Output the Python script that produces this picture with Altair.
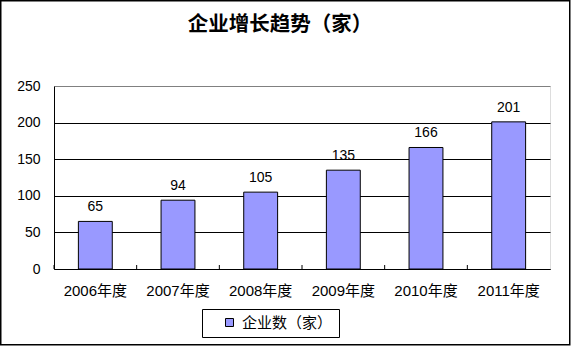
import altair as alt
import pandas as pd

years = ["2006年度", "2007年度", "2008年度", "2009年度", "2010年度", "2011年度"]
counts = [65, 94, 105, 135, 166, 201]
series_name = "企业数（家）"
y_ticks = [0, 50, 100, 150, 200, 250]
title_text = "企业增长趋势（家）"

FONT = "'Liberation Sans', 'Noto Sans CJK SC', sans-serif"
BAR = "#9999FF"

df = pd.DataFrame({"year": years, "count": counts, "series": [series_name] * len(years)})

W, H = 496, 183

x_axis = alt.Axis(
    title=None, labelAngle=0, ticks=False, domainColor="black", domainWidth=1,
    labelFontSize=15, labelPadding=14, labelColor="black", labelFont=FONT,
)
y_axis = alt.Axis(
    title=None, values=y_ticks, ticks=False, grid=True, labelOverlap=False,
    gridColor={"condition": {"test": "datum.value === 250", "value": "#808080"}, "value": "#000000"},
    gridWidth=1, domainColor="black", labelFontSize=14, labelPadding=14,
    labelColor="black", labelFont=FONT,
)
x_scale = alt.Scale(paddingInner=0, paddingOuter=0)
y_scale = alt.Scale(domain=[0, 250], nice=False)

base = alt.Chart(df)

bars = base.mark_bar(
    width=alt.RelativeBandSize(0.41), stroke="black", strokeWidth=1
).encode(
    x=alt.X("year:N", sort=years, scale=x_scale, axis=x_axis),
    y=alt.Y("count:Q", scale=y_scale, axis=y_axis),
    color=alt.Color(
        "series:N",
        scale=alt.Scale(range=[BAR]),
        legend=alt.Legend(
            title=None, orient="none", legendX=148, legendY=223,
            strokeColor="black", fillColor="white", padding=6,
            symbolType="square", symbolSize=64, symbolStrokeColor="black",
            symbolStrokeWidth=1, symbolOffset=14, labelOffset=5,
            labelFontSize=15, labelFont=FONT, labelColor="black",
        ),
    ),
)

labels = base.mark_text(
    baseline="bottom", dy=-7, fontSize=14, font=FONT, color="black"
).encode(
    x=alt.X("year:N", sort=years, scale=x_scale, axis=x_axis),
    y=alt.Y("count:Q", scale=y_scale, axis=y_axis),
    text=alt.Text("count:Q"),
)

ticks = base.mark_rule(color="black", strokeWidth=1).encode(
    x=alt.X("year:N", sort=years, bandPosition=0, scale=x_scale, axis=x_axis),
    y=alt.value(H),
    y2=alt.value(H - 4),
)

border = alt.Chart(pd.DataFrame({"k": [0]})).mark_rect(
    fill="transparent", stroke="black", strokeWidth=1.5
).encode(
    x=alt.value(-53.25), x2=alt.value(515.75),
    y=alt.value(-85.25), y2=alt.value(258.75),
)

title = alt.Chart(pd.DataFrame({"t": [title_text]})).mark_text(
    fontSize=20.5, fontWeight="bold", font=FONT, color="black",
    align="center", baseline="middle",
).encode(
    x=alt.value(226), y=alt.value(-61), text="t:N",
)

chart = alt.layer(bars, ticks, labels, border, title).properties(
    width=W, height=H,
    autosize=alt.AutoSizeParams(type="none"),
    padding={"left": 54, "top": 86, "right": 21, "bottom": 77},
).configure_view(
    stroke="#808080", strokeWidth=1
).configure(
    background="white"
)

chart.save("out.html", embed_options={"renderer": "svg", "actions": False})
